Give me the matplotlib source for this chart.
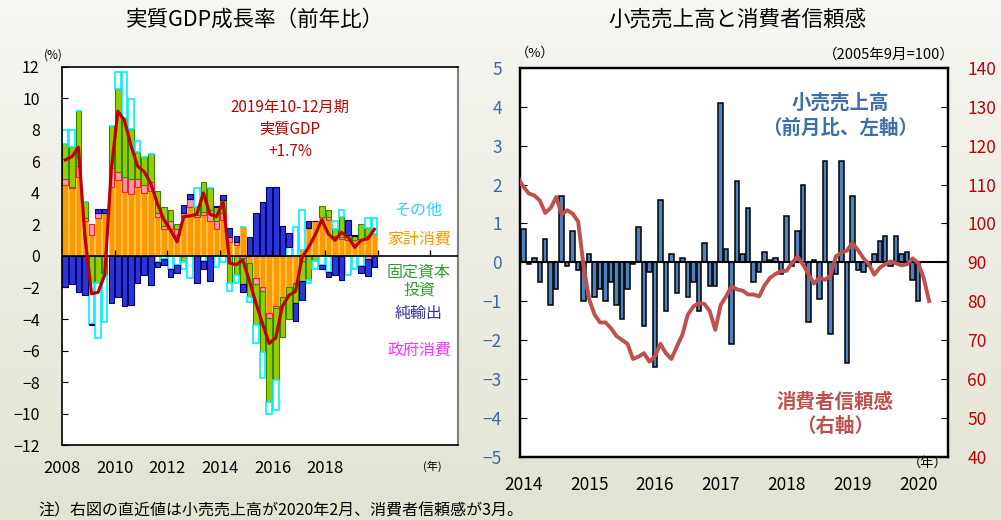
import matplotlib.pyplot as plt
import numpy as np
from matplotlib.colors import LinearSegmentedColormap

plt.rcParams['font.family'] = ['Noto Sans CJK JP', 'DejaVu Sans']

# left chart: contributions to real GDP growth (yoy, %), 2008Q1 - 2019Q4
household = [4.5, 4.3, 5.0, 2.2, 1.35, 2.4, 2.7, 4.4,
             4.8, 4.05, 3.95, 4.4, 4.0, 4.1, 2.45, 1.7,
             1.7, 1.35, 2.5, 3.1, 2.45, 2.6, 2.25, 1.7,
             2.3, 0.9, 0.7, 1.85, -0.45, -1.4, -1.95, -3.65,
             -3.2, -2.6, -1.95, -1.7, 0.4, 1.75, 2.2, 2.5,
             2.3, 1.2, 1.1, 1.0, 1.0, 1.1, 1.25, 1.4]
government = [0.4, 0.1, 0.7, 0.2, 0.65, 0.3, 0.0, 1.2,
              0.55, 0.95, 0.95, 0.5, 0.5, 0.6, 0.3, 0.2,
              0.5, 0.35, 0.25, 0.55, 0.15, 0.2, 0.65, 0.5,
              0.4, 0.3, 0.2, -0.15, 0.0, -0.35, -0.3, -0.3,
              -0.1, 0.0, 0.0, -0.1, -0.3, 0.0, 0.0, 0.0,
              0.15, 0.1, 0.1, 0.0, 0.0, 0.0, -0.2, 0.0]
investment = [2.2, 2.5, 3.5, 1.0, -1.7, -1.7, -1.2, 2.65,
              5.25, 3.75, 3.15, 1.7, 1.8, 1.8, 1.35, 1.2,
              0.75, 0.35, -0.35, 0.0, 0.5, 1.9, 1.4, 0.9,
              0.85, -1.7, -1.2, -1.6, -2.15, -2.65, -3.85, -5.3,
              -4.6, -2.55, -2.05, -1.2, -1.3, -1.5, -0.3, 0.7,
              0.45, 0.4, 1.27, 0.35, 0.25, 0.95, 0.5, 0.0]
other = [0.9, 1.1, 0.0, 0.0, -2.6, -3.5, -3.0, 0.0,
         1.05, 2.9, 1.9, 0.7, 0.0, 0.0, -0.35, -0.2,
         -0.85, -0.55, -0.45, -1.4, 1.2, -0.3, 0.0, -0.7,
         -0.4, -0.55, -0.5, 0.0, -0.3, -1.15, -1.65, -0.75,
         -1.9, 0.0, 0.6, 1.85, 2.5, -0.2, -0.5, -0.6,
         -1.0, 0.5, 0.45, -1.2, -0.8, -0.65, 0.65, 1.0]
net_exports = [-1.95, -1.75, -2.3, -2.5, -0.1, 0.3, 0.3, -3.0,
               -2.6, -3.2, -3.1, -1.7, -1.2, -1.85, -0.35, -0.4,
               -0.5, -0.55, 0.5, 0.3, -1.7, -0.5, -1.6, 0.1,
               0.35, 0.55, 0.35, -0.55, 1.2, 2.7, 3.45, 4.4,
               4.4, 1.9, 0.85, -1.15, -1.2, 0.5, 0.0, -0.25,
               -0.35, -1.2, -1.55, 0.95, 0.1, -0.45, -1.1, -0.7]
gdp = [6.1, 6.3, 6.9, 1.2, -2.4, -2.3, -1.2, 5.5,
       9.2, 8.6, 7.0, 5.7, 5.35, 4.6, 3.35, 2.3,
       1.65, 0.9, 2.5, 2.55, 2.65, 4.0, 2.65, 2.5,
       3.45, -0.45, -0.55, -0.25, -1.6, -3.0, -4.3, -5.55,
       -5.2, -3.2, -2.5, -2.25, -0.1, 0.55, 1.35, 2.3,
       1.4, 1.0, 1.5, 1.2, 0.55, 1.0, 1.1, 1.7]
gdp_years = [2008, 2010, 2012, 2014, 2016, 2018]

# right chart: retail sales (m/m %, Jan 2014 - ) and consumer confidence (Dec 2013 - Mar 2020)
retail = [0.85, -0.05, 0.1, -0.5, 0.6, -1.1, -0.7, 1.7, -0.1, 0.8,
          -0.2, -1.0, 0.2, -0.9, -0.7, -1.0, -0.5, -1.1, -1.45, -0.7,
          -0.05, 0.9, -1.65, -0.25, -2.7, 1.6, -1.25, 0.2, -0.8, 0.1,
          -0.9, -0.5, -1.25, 0.5, -0.6, -0.6, 4.1, 0.35, -2.1, 2.1,
          0.2, 1.4, -0.5, -0.25, 0.26, 0.05, 0.1, -0.3, 1.2, -0.1,
          0.8, 2.0, -1.55, 0.05, -0.95, 2.6, -1.85, -0.3, 2.6, -2.6,
          1.7, -0.2, -0.25, -0.1, 0.2, 0.55, 0.67, -0.1, 0.67, 0.2,
          0.26, -0.45, -1.0]
confidence = [111.8, 109.5, 107.7, 107.2, 105.9, 102.7, 104.0, 106.8, 102.3, 103.4,
              102.5, 100.5, 89.0, 80.5, 76.5, 74.5, 74.5, 73.0, 71.0, 70.0,
              69.0, 65.1, 65.7, 66.6, 64.4, 65.8, 69.0, 66.6, 65.1, 68.3,
              71.3, 76.5, 78.6, 79.5, 79.3, 77.4, 72.6, 79.0, 81.3, 83.8,
              83.0, 82.7, 81.7, 81.7, 81.2, 84.1, 86.0, 87.0, 87.7, 87.8,
              89.8, 91.5, 89.4, 87.0, 84.5, 86.0, 85.5, 86.5, 91.5, 92.5,
              93.0, 95.0, 93.2, 91.1, 89.5, 86.8, 88.6, 89.5, 90.2, 89.7,
              89.2, 89.5, 91.0, 89.8, 86.0, 80.0]
retail_years = [2014, 2015, 2016, 2017, 2018, 2019, 2020]

W, H = 1001, 520


def px(x, y):
    return x / W, 1 - y / H


fig = plt.figure(figsize=(W / 100, H / 100), dpi=100)

# beige gradient background
bg = fig.add_axes([0, 0, 1, 1], zorder=-10)
cmap = LinearSegmentedColormap.from_list('bg', ['#F7F7F3', '#E3E3D4'])
bg.imshow(np.linspace(0, 1, 256).reshape(-1, 1), aspect='auto', cmap=cmap, extent=[0, 1, 0, 1])
bg.axis('off')

# ---------------- left chart ----------------
ax1 = fig.add_axes([0.0619, 0.1442, 0.3956, 0.727])
x = 2008 + (np.arange(len(gdp)) + 0.5) / 4

styles = [
    (household, '#FF9900', '#FFC040', 0.6),
    (government, '#FF99B0', '#FF2020', 0.8),
    (investment, '#99CC00', '#2E8B00', 0.8),
    (other, 'white', '#00F0FF', 1.2),
    (net_exports, '#2A36D8', '#000070', 0.8),
]
pos = np.zeros(len(gdp))
neg = np.zeros(len(gdp))
for vals, fc, ec, lw in styles:
    v = np.array(vals)
    bottom = np.where(v >= 0, pos, neg)
    ax1.bar(x, v, width=0.21, bottom=bottom, color=fc, edgecolor=ec, linewidth=lw, zorder=2)
    pos += np.clip(v, 0, None)
    neg += np.clip(v, None, 0)

ax1.plot(x, gdp, color='#C00000', lw=2.3, zorder=4)
ax1.axhline(0, color='black', lw=1.2, zorder=3)
ax1.vlines(range(2010, 2023, 2), 0, 0.4, color='black', lw=1, zorder=3)

ax1.set_xlim(2008, 2023.05)
ax1.set_ylim(-12, 12)
ax1.set_yticks(range(-12, 13, 2))
ax1.set_xticks(gdp_years)
ax1.set_xticklabels([str(y) for y in gdp_years])
ax1.tick_params(axis='x', length=0, pad=11, labelsize=12)
ax1.tick_params(axis='y', direction='in', length=4, pad=16, labelsize=11.5)
for s in ['left', 'top', 'bottom']:
    ax1.spines[s].set_linewidth(1.2)
ax1.spines['right'].set_color('#808080')
ax1.spines['right'].set_linewidth(1.5)

fig.text(*px(53, 55), '(%)', fontsize=8.5, ha='center', va='center')
fig.text(*px(432, 466), '(年)', fontsize=8, ha='center', va='center')
fig.text(*px(255, 20), '実質GDP成長率（前年比）', fontsize=15.5, ha='center', va='center')

for yy, t in [(107, '2019年10-12月期'), (129, '実質GDP'), (151, '+1.7%')]:
    fig.text(*px(290, yy), t, fontsize=11, color='#C00000', ha='center', va='center')

labels = [(418, 210, 'その他', '#33CCFF'),
          (419, 239, '家計消費', '#FF9900'),
          (419, 272, '固定資本', '#2E9E2E'),
          (419, 290, '投資', '#2E9E2E'),
          (419, 313, '純輸出', '#333399'),
          (420, 350, '政府消費', '#FF33FF')]
for lx, ly, t, c in labels:
    fig.text(*px(lx, ly), t, fontsize=11.5, color=c, ha='center', va='center')

# ---------------- right chart ----------------
ax2 = fig.add_axes([0.5195, 0.1221, 0.4273, 0.7471])
m = np.arange(len(retail))
ax2.bar(m, retail, width=0.82, color='#4F81BD', edgecolor='black', linewidth=1.1, zorder=2)
ax2.axhline(0, color='black', lw=1.5, zorder=3)
ax2.set_xlim(-0.6, 77.4)
ax2.set_ylim(-5, 5)
ax2.set_yticks(range(-5, 6))
ax2.set_xticks([12 * i for i in range(len(retail_years))])
ax2.set_xticklabels([str(y) for y in retail_years])
ax2.tick_params(axis='x', length=0, pad=14, labelsize=12.5)
ax2.tick_params(axis='y', direction='in', length=5, pad=13, labelsize=12.5, labelcolor='#3A6BA5')
for s in ax2.spines.values():
    s.set_linewidth(1.6)

ax3 = ax2.twinx()
ax3.plot(np.arange(-1, len(confidence) - 1), confidence, color='#C0504D', lw=2.8, zorder=4)
ax3.set_ylim(40, 140)
ax3.set_yticks(range(40, 141, 10))
ax3.tick_params(axis='y', direction='in', length=5, pad=14, labelsize=12.5, labelcolor='#C00000')
for s in ax3.spines.values():
    s.set_linewidth(1.6)

fig.text(*px(535, 53), '（%）', fontsize=9.5, ha='center', va='center')
fig.text(*px(889, 55), '（2005年9月=100）', fontsize=10.5, ha='center', va='center')
fig.text(*px(928, 463), '（年）', fontsize=9.5, ha='center', va='center')
fig.text(*px(737, 20), '小売売上高と消費者信頼感', fontsize=15.5, ha='center', va='center')
fig.text(*px(840, 103), '小売売上高', fontsize=14, color='#3F6FA8', weight='bold',
         ha='center', va='center')
fig.text(*px(840, 128), '（前月比、左軸）', fontsize=14, color='#3F6FA8', weight='bold',
         ha='center', va='center')
fig.text(*px(835, 402), '消費者信頼感', fontsize=14, color='#C0504D', weight='bold',
         ha='center', va='center')
fig.text(*px(835, 427), '（右軸）', fontsize=14, color='#C0504D', weight='bold',
         ha='center', va='center')

fig.text(*px(38, 511), '注）右図の直近値は小売売上高が2020年2月、消費者信頼感が3月。',
         fontsize=11.5, ha='left', va='center')

plt.savefig('out.png', dpi=100)
plt.close()
